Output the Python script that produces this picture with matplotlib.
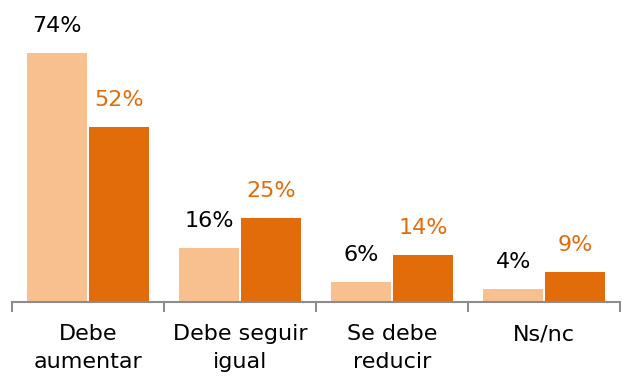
import numpy as np
import matplotlib.pyplot as plt

categories = ['Debe\naumentar', 'Debe seguir\nigual', 'Se debe\nreducir', 'Ns/nc']
serie_a = [74, 16, 6, 4]
serie_b = [52, 25, 14, 9]

color_a = '#F9C08F'
color_b = '#E36C0A'

plt.rcParams['font.family'] = ['DejaVu Sans']

fig = plt.figure(figsize=(6.22, 3.79), dpi=100)
ax = fig.add_axes([0.0193, 0.203, 0.978, 0.797])

x = np.arange(len(categories))
w = 0.392
gap = 0.008
bars_a = ax.bar(x - w / 2 - gap, serie_a, width=w, color=color_a)
bars_b = ax.bar(x + w / 2 + gap, serie_b, width=w, color=color_b)

for b, v in zip(bars_a, serie_a):
    ax.annotate(f'{v}%', (b.get_x() + b.get_width() / 2, v), xytext=(0, 12),
                textcoords='offset points', ha='center', va='bottom',
                fontsize=16, color='black')
for b, v in zip(bars_b, serie_b):
    ax.annotate(f'{v}%', (b.get_x() + b.get_width() / 2, v), xytext=(0, 12),
                textcoords='offset points', ha='center', va='bottom',
                fontsize=16, color=color_b)

ax.set_xlim(-0.5, len(categories) - 0.5)
ax.set_ylim(0, 89.6)

ax.set_xticks(x)
ax.set_xticklabels(categories, fontsize=16, linespacing=1.5)
ax.tick_params(axis='x', which='major', length=0, pad=16)
ax.set_xticks(np.arange(-0.5, len(categories)), minor=True)
ax.tick_params(axis='x', which='minor', length=7, width=1.5, color='#8C8C8C')
ax.set_yticks([])

for s in ['top', 'right', 'left']:
    ax.spines[s].set_visible(False)
ax.spines['bottom'].set_color('#8C8C8C')
ax.spines['bottom'].set_linewidth(1.5)

fig.savefig('out.png', dpi=100)
